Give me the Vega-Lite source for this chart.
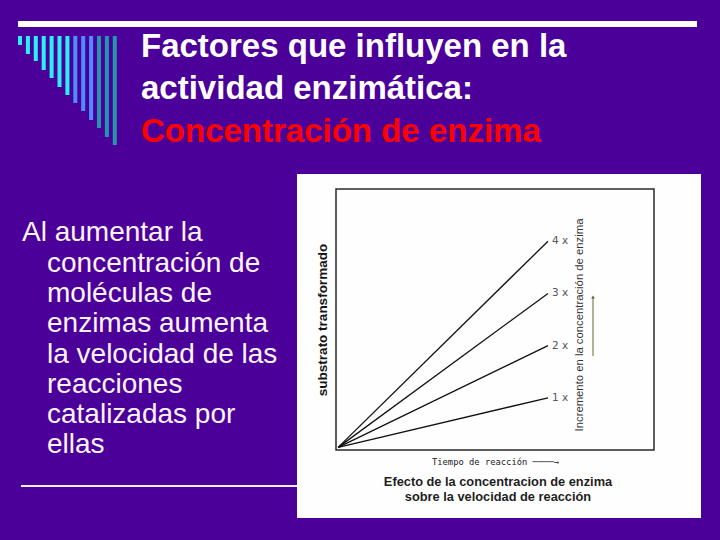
{
  "$schema": "https://vega.github.io/schema/vega-lite/v6.json",
  "autosize": "none",
  "width": 318,
  "height": 261,
  "padding": {"left": 336, "top": 189, "right": 66, "bottom": 90},
  "background": "#4b0099",
  "config": {"view": {"stroke": null}, "font": "Liberation Sans"},
  "title": {
    "text": ["Factores que influyen en la", "actividad enzimática:"],
    "subtitle": "Concentración de enzima",
    "anchor": "start",
    "frame": "group",
    "dx": -195,
    "dy": 128,
    "offset": 0,
    "font": "Liberation Sans",
    "fontSize": 33,
    "fontWeight": "bold",
    "color": "#ffffff",
    "lineHeight": 42,
    "subtitleFont": "Liberation Sans",
    "subtitleFontSize": 33,
    "subtitleFontWeight": "bold",
    "subtitleColor": "#ff0000",
    "subtitleLineHeight": 42,
    "subtitlePadding": 10
  },
  "datasets": {
    "panel": [{"x0": 297, "x1": 701, "y0": 174, "y1": 518}],
    "frame": [{"x0": 336, "x1": 654, "y0": 189, "y1": 450}],
    "topbar": [{"x0": 18, "x1": 697, "y0": 21, "y1": 27}],
    "underline": [{"x0": 21, "x1": 300, "y0": 486}],
    "bars": [
      {"x0": 18.0, "x1": 22.0, "y0": 36, "y1": 45, "grp": "cyan"},
      {"x0": 25.9, "x1": 29.9, "y0": 36, "y1": 54, "grp": "cyan"},
      {"x0": 33.8, "x1": 37.8, "y0": 36, "y1": 61, "grp": "cyan"},
      {"x0": 41.7, "x1": 45.7, "y0": 36, "y1": 70, "grp": "cyan"},
      {"x0": 49.6, "x1": 53.6, "y0": 36, "y1": 78, "grp": "cyan"},
      {"x0": 57.5, "x1": 61.5, "y0": 36, "y1": 87, "grp": "cyan"},
      {"x0": 65.4, "x1": 69.4, "y0": 36, "y1": 95, "grp": "cyan"},
      {"x0": 73.3, "x1": 77.3, "y0": 36, "y1": 103, "grp": "blue"},
      {"x0": 81.2, "x1": 85.2, "y0": 36, "y1": 111, "grp": "blue"},
      {"x0": 89.1, "x1": 93.1, "y0": 36, "y1": 120, "grp": "blue"},
      {"x0": 97.0, "x1": 101.0, "y0": 36, "y1": 128, "grp": "teal"},
      {"x0": 104.9, "x1": 108.9, "y0": 36, "y1": 137, "grp": "teal"},
      {"x0": 112.8, "x1": 116.8, "y0": 36, "y1": 145, "grp": "teal"}
    ],
    "paragraph": [
      {"txt": "Al aumentar la", "x": 22, "y": 241},
      {"txt": "concentración de", "x": 47, "y": 272},
      {"txt": "moléculas de", "x": 47, "y": 302},
      {"txt": "enzimas aumenta", "x": 47, "y": 332},
      {"txt": "la velocidad de las", "x": 47, "y": 363},
      {"txt": "reacciones", "x": 47, "y": 393},
      {"txt": "catalizadas por", "x": 47, "y": 423},
      {"txt": "ellas", "x": 47, "y": 453}
    ],
    "caption": [
      {"txt": "Efecto de la concentracion de enzima", "x": 498, "y": 486},
      {"txt": "sobre la velocidad de reacción", "x": 498, "y": 501}
    ],
    "sidelabel": [{"txt": "Incremento en la concentración de enzima", "x": 580, "y": 325}],
    "arrow": [{"x": 593, "y0": 356, "y1": 298}],
    "arrowhead": [{"x": 593, "y": 297}],
    "curves": [
      {"conc": "1 x", "t": 0.02, "s": 0.1},
      {"conc": "1 x", "t": 2, "s": 2},
      {"conc": "2 x", "t": 0.02, "s": 0.1},
      {"conc": "2 x", "t": 2, "s": 4},
      {"conc": "3 x", "t": 0.02, "s": 0.1},
      {"conc": "3 x", "t": 2, "s": 6},
      {"conc": "4 x", "t": 0.02, "s": 0.1},
      {"conc": "4 x", "t": 2, "s": 8}
    ]
  },
  "resolve": {"scale": {"x": "independent", "y": "independent"}},
  "layer": [
    {
      "layer": [
        {
          "data": {"name": "topbar"},
          "mark": {"type": "rect", "fill": "#ffffff"},
          "encoding": {
            "x": {"field": "x0", "type": "quantitative", "axis": null, "scale": {"domain": [336, 654], "zero": false, "nice": false}},
            "x2": {"field": "x1"},
            "y": {"field": "y0", "type": "quantitative", "axis": null, "scale": {"domain": [189, 450], "reverse": true, "zero": false, "nice": false}},
            "y2": {"field": "y1"}
          }
        },
        {
          "data": {"name": "bars"},
          "mark": {"type": "rect"},
          "encoding": {
            "x": {"field": "x0", "type": "quantitative", "axis": null},
            "x2": {"field": "x1"},
            "y": {"field": "y0", "type": "quantitative", "axis": null},
            "y2": {"field": "y1"},
            "color": {"field": "grp", "type": "nominal", "legend": null, "scale": {"domain": ["cyan", "blue", "teal"], "range": ["#2eefff", "#4f8cff", "#2496ad"]}}
          }
        },
        {
          "data": {"name": "underline"},
          "mark": {"type": "rule", "color": "#fbe9ff", "strokeWidth": 2},
          "encoding": {
            "x": {"field": "x0", "type": "quantitative", "axis": null},
            "x2": {"field": "x1"},
            "y": {"field": "y0", "type": "quantitative", "axis": null}
          }
        },
        {
          "data": {"name": "paragraph"},
          "mark": {"type": "text", "align": "left", "baseline": "alphabetic", "font": "Liberation Sans", "fontSize": 28, "color": "#fff4ff"},
          "encoding": {
            "x": {"field": "x", "type": "quantitative", "axis": null},
            "y": {"field": "y", "type": "quantitative", "axis": null},
            "text": {"field": "txt"}
          }
        },
        {
          "data": {"name": "panel"},
          "mark": {"type": "rect", "fill": "#fefefe"},
          "encoding": {
            "x": {"field": "x0", "type": "quantitative", "axis": null},
            "x2": {"field": "x1"},
            "y": {"field": "y0", "type": "quantitative", "axis": null},
            "y2": {"field": "y1"}
          }
        },
        {
          "data": {"name": "frame"},
          "mark": {"type": "rect", "fill": null, "stroke": "#2a2a2a", "strokeWidth": 1.5},
          "encoding": {
            "x": {"field": "x0", "type": "quantitative", "axis": null},
            "x2": {"field": "x1"},
            "y": {"field": "y0", "type": "quantitative", "axis": null},
            "y2": {"field": "y1"}
          }
        },
        {
          "data": {"name": "caption"},
          "mark": {"type": "text", "align": "center", "baseline": "alphabetic", "font": "Liberation Sans", "fontSize": 12.8, "fontWeight": "bold", "color": "#1e1e1e"},
          "encoding": {
            "x": {"field": "x", "type": "quantitative", "axis": null},
            "y": {"field": "y", "type": "quantitative", "axis": null},
            "text": {"field": "txt"}
          }
        },
        {
          "data": {"name": "sidelabel"},
          "mark": {"type": "text", "align": "center", "baseline": "middle", "angle": 270, "font": "Liberation Sans", "fontSize": 11.3, "color": "#333333"},
          "encoding": {
            "x": {"field": "x", "type": "quantitative", "axis": null},
            "y": {"field": "y", "type": "quantitative", "axis": null},
            "text": {"field": "txt"}
          }
        },
        {
          "data": {"name": "arrow"},
          "mark": {"type": "rule", "color": "#5a6a3a", "strokeWidth": 1},
          "encoding": {
            "x": {"field": "x", "type": "quantitative", "axis": null},
            "y": {"field": "y0", "type": "quantitative", "axis": null},
            "y2": {"field": "y1"}
          }
        },
        {
          "data": {"name": "arrowhead"},
          "mark": {"type": "point", "shape": "triangle-up", "filled": true, "color": "#5a6a3a", "size": 14, "opacity": 1},
          "encoding": {
            "x": {"field": "x", "type": "quantitative", "axis": null},
            "y": {"field": "y", "type": "quantitative", "axis": null}
          }
        }
      ]
    },
    {
      "data": {"name": "curves"},
      "layer": [
        {
          "mark": {"type": "line", "color": "#111111", "strokeWidth": 1.3},
          "encoding": {
            "x": {
              "field": "t", "type": "quantitative",
              "scale": {"domain": [0, 3], "nice": false},
              "axis": {"zindex": 2, "domain": false, "ticks": false, "labels": false, "grid": false, "title": "Tiempo de reacción ────→", "titleFont": "DejaVu Sans Mono", "titleFontSize": 8.8, "titleFontWeight": "normal", "titleColor": "#222222", "titlePadding": 7}
            },
            "y": {
              "field": "s", "type": "quantitative",
              "scale": {"domain": [0, 10], "nice": false},
              "axis": {"zindex": 2, "domain": false, "ticks": false, "labels": false, "grid": false, "title": "substrato transformado", "titleFont": "Liberation Sans", "titleFontSize": 13.5, "titleFontWeight": "bold", "titleColor": "#151515", "titlePadding": 7}
            },
            "detail": {"field": "conc", "type": "nominal"}
          }
        },
        {
          "transform": [{"filter": "datum.t == 2"}],
          "mark": {"type": "text", "align": "left", "baseline": "middle", "dx": 4, "font": "DejaVu Sans", "fontSize": 10.5, "color": "#555555"},
          "encoding": {
            "x": {"field": "t", "type": "quantitative"},
            "y": {"field": "s", "type": "quantitative"},
            "text": {"field": "conc"}
          }
        }
      ]
    }
  ]
}
